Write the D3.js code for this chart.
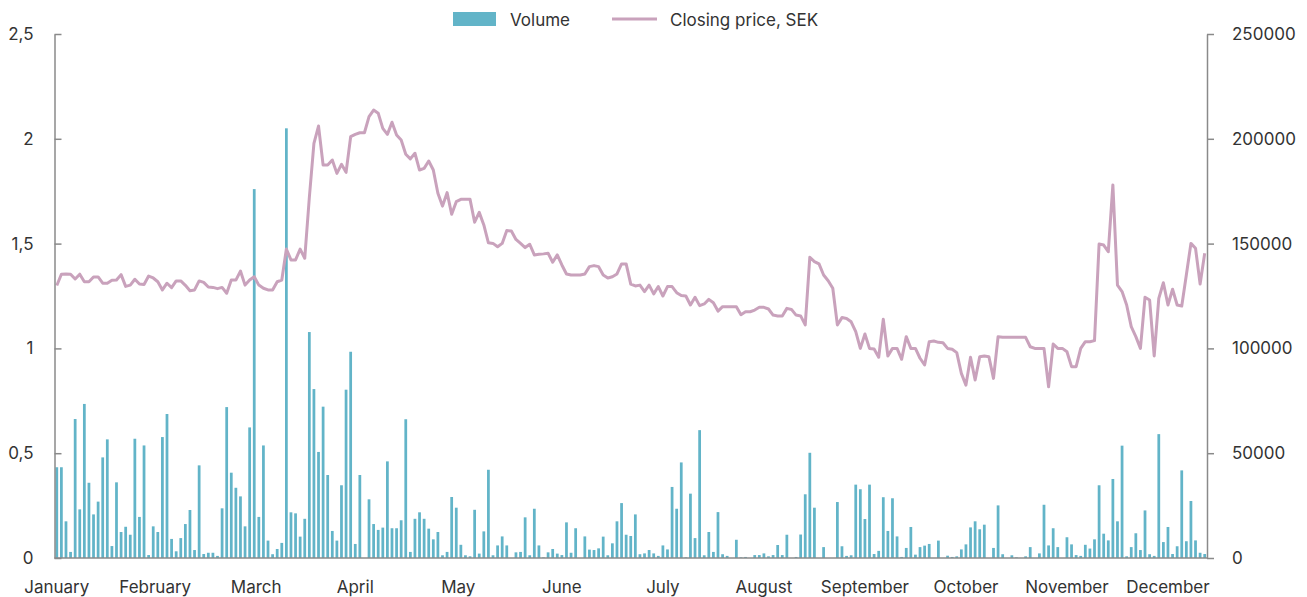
<!DOCTYPE html>
<html>
<head>
<meta charset="utf-8">
<script src="https://cdn.jsdelivr.net/npm/d3@7"></script>
<style>
  body { margin: 0; background: #fff; }
  svg text { font-family: Inter, "Noto Sans", sans-serif; fill: #333; }
</style>
</head>
<body>
<svg id="chart" width="1307" height="597"></svg>
<script>
// daily trading volume (right axis)
const volume = [
  43300, 43300, 17500, 2900, 66300, 23200, 73500, 35900, 20800, 26900,
  48000, 56600, 5700, 36100, 12400, 14900, 11100, 56900, 19600, 53700,
  1400, 15100, 12400, 57700, 68700, 9100, 3200, 9500, 16200, 22900,
  3800, 44200, 1900, 2500, 2500, 1000, 23700, 72000, 40700, 33500,
  29400, 15100, 62300, 176000, 19600, 53700, 8300, 1800, 4300, 7200,
  205000, 21800, 21300, 10200, 18700, 107800, 80600, 50600, 72200, 39600,
  12900, 8300, 34700, 80300, 98400, 6700, 39600, 0, 28000, 16200,
  13400, 14500, 46100, 14200, 14200, 18000, 66200, 2900, 18700, 21800,
  18700, 14000, 8900, 12400, 1300, 2900, 29100, 24000, 6300, 1300,
  800, 23000, 2100, 12700, 42100, 1300, 6000, 10300, 6000, 0,
  2700, 2900, 19400, 1300, 23500, 6000, 300, 2700, 4300, 2100,
  1400, 17000, 2500, 14200, 0, 10300, 4000, 3800, 4600, 10200,
  1300, 7000, 17500, 26200, 11100, 10500, 20800, 1800, 2200, 3800,
  2200, 1000, 6000, 4100, 33900, 23500, 45600, 300, 30700, 9500,
  61000, 1300, 12400, 2900, 21900, 1800, 1000, 0, 8700, 300,
  500, 0, 1400, 1400, 2200, 800, 1400, 6200, 1400, 11100,
  0, 500, 11200, 30400, 50200, 24000, 0, 5200, 0, 0,
  26700, 5600, 1000, 1300, 35000, 32800, 18600, 35000, 1900, 3400,
  29000, 12900, 28500, 10300, 500, 4800, 14800, 1600, 5200, 5900,
  6700, 0, 8300, 0, 1100, 500, 800, 4100, 6500, 14600,
  17500, 13700, 15900, 0, 4800, 25100, 1800, 0, 1300, 300,
  0, 800, 5200, 0, 2200, 25400, 6000, 14200, 5200, 0,
  9900, 6500, 1400, 1000, 6300, 4500, 8900, 34700, 11600, 8400,
  37700, 17500, 53600, 800, 5200, 11800, 3800, 22700, 1800, 1000,
  59100, 7600, 14800, 1900, 5600, 41800, 8000, 27200, 8400, 2500,
  1900
];

// closing price, SEK (left axis)
const price = [
  1.30, 1.354, 1.355, 1.354, 1.331, 1.354, 1.318, 1.318, 1.341, 1.341,
  1.311, 1.311, 1.325, 1.326, 1.352, 1.296, 1.302, 1.33, 1.307, 1.305,
  1.345, 1.336, 1.318, 1.279, 1.311, 1.29, 1.322, 1.322, 1.301, 1.275,
  1.279, 1.322, 1.315, 1.293, 1.291, 1.285, 1.291, 1.263, 1.326, 1.326,
  1.369, 1.302, 1.326, 1.342, 1.302, 1.287, 1.279, 1.279, 1.318, 1.326,
  1.474, 1.422, 1.422, 1.474, 1.43, 1.72, 1.978, 2.061, 1.875, 1.875,
  1.899, 1.835, 1.878, 1.84, 2.01, 2.021, 2.029, 2.029, 2.106, 2.137,
  2.122, 2.05, 2.021, 2.079, 2.018, 1.994, 1.926, 1.904, 1.931, 1.851,
  1.859, 1.894, 1.851, 1.74, 1.679, 1.743, 1.64, 1.70, 1.711, 1.711,
  1.711, 1.602, 1.649, 1.589, 1.504, 1.501, 1.485, 1.501, 1.562, 1.56,
  1.52, 1.501, 1.481, 1.497, 1.446, 1.449, 1.451, 1.454, 1.411, 1.446,
  1.398, 1.355, 1.35, 1.35, 1.35, 1.355, 1.39, 1.395, 1.39, 1.35,
  1.336, 1.342, 1.355, 1.403, 1.403, 1.307, 1.298, 1.302, 1.271, 1.302,
  1.26, 1.295, 1.25, 1.295, 1.295, 1.266, 1.252, 1.25, 1.207, 1.244,
  1.204, 1.212, 1.234, 1.218, 1.178, 1.199, 1.199, 1.199, 1.199, 1.161,
  1.175, 1.175, 1.183, 1.196, 1.196, 1.188, 1.159, 1.155, 1.155, 1.191,
  1.186, 1.159, 1.155, 1.112, 1.435, 1.414, 1.403, 1.35, 1.323, 1.287,
  1.112, 1.147, 1.143, 1.127, 1.08, 1.00, 1.069, 1.00, 0.997, 0.958,
  1.139, 0.964, 1.00, 1.00, 0.948, 1.056, 1.00, 1.00, 0.953, 0.921,
  1.032, 1.035, 1.029, 1.027, 1.00, 0.996, 0.98, 0.881, 0.825, 0.958,
  0.849, 0.96, 0.964, 0.96, 0.857, 1.056, 1.053, 1.053, 1.053, 1.053,
  1.053, 1.053, 1.008, 1.00, 1.00, 1.00, 0.817, 1.021, 1.00, 1.00,
  0.984, 0.913, 0.913, 1.00, 1.032, 1.032, 1.037, 1.498, 1.493, 1.461,
  1.78, 1.302, 1.271, 1.207, 1.104, 1.056, 1.00, 1.244, 1.231, 0.964,
  1.239, 1.313, 1.207, 1.282, 1.207, 1.202, 1.35, 1.501, 1.478, 1.307,
  1.454
];

const monthLabels = ['January', 'February', 'March', 'April', 'May', 'June',
  'July', 'August', 'September', 'October', 'November', 'December'];
const monthIndex = [0, 21, 43, 65, 87, 110, 132, 154, 176, 198, 220, 242];
const priceTicks = [0, 0.5, 1, 1.5, 2, 2.5];
const volumeTicks = [0, 50000, 100000, 150000, 200000, 250000];

const svg = d3.select('#chart');
const plotLeft = 54.5, plotRight = 1207, plotTop = 34, plotBottom = 558;
const barColor = '#62b4c8', lineColor = '#c9a2bc', axisColor = '#8a8a8a';

const x = d3.scaleBand()
  .domain(d3.range(volume.length))
  .range([plotLeft, plotRight])
  .paddingInner(0.4)
  .paddingOuter(0.2);
const yPrice = d3.scaleLinear().domain([0, 2.5]).range([plotBottom, plotTop]);
const yVol = d3.scaleLinear().domain([0, 250000]).range([plotBottom, plotTop]);

svg.append('g')
  .selectAll('rect')
  .data(volume)
  .join('rect')
  .attr('x', (d, i) => x(i))
  .attr('width', x.bandwidth())
  .attr('y', d => yVol(d))
  .attr('height', d => plotBottom - yVol(d))
  .attr('fill', barColor);

const line = d3.line()
  .x((d, i) => x(i) + x.bandwidth() / 2)
  .y(d => yPrice(d));

svg.append('path')
  .datum(price)
  .attr('d', line)
  .attr('fill', 'none')
  .attr('stroke', lineColor)
  .attr('stroke-width', 3)
  .attr('stroke-linejoin', 'round');

// axes
const comma = d => String(d).replace('.', ',');
const leftAxis = svg.append('g')
  .attr('transform', `translate(${plotLeft},0)`)
  .call(d3.axisLeft(yPrice).tickValues(priceTicks).tickFormat(comma)
    .tickSize(-7).tickSizeOuter(0).tickPadding(21));
const rightAxis = svg.append('g')
  .attr('transform', `translate(${plotRight},0)`)
  .call(d3.axisRight(yVol).tickValues(volumeTicks).tickFormat(d3.format('d'))
    .tickSize(7).tickSizeOuter(0).tickPadding(18));
[leftAxis, rightAxis].forEach(g => {
  g.select('.domain').attr('stroke', axisColor).attr('stroke-width', 1.5);
  g.selectAll('.tick line').attr('stroke', axisColor).attr('stroke-width', 1.5);
  g.selectAll('.tick text').attr('font-size', 17).attr('fill', '#333')
    .attr('font-family', 'Inter, sans-serif');
});

svg.append('line')
  .attr('x1', plotLeft).attr('x2', plotRight)
  .attr('y1', plotBottom).attr('y2', plotBottom)
  .attr('stroke', axisColor).attr('stroke-width', 1.5);

svg.append('g')
  .selectAll('text')
  .data(monthLabels)
  .join('text')
  .attr('x', (d, i) => x(monthIndex[i]) + x.bandwidth() / 2 + (i === 1 || i === 2 || i === 4 ? 2 : 0))
  .attr('y', 593)
  .attr('text-anchor', 'middle')
  .attr('font-size', 17)
  .text(d => d);

// legend
const legend = svg.append('g');
legend.append('rect')
  .attr('x', 453).attr('y', 12).attr('width', 43).attr('height', 14)
  .attr('fill', barColor);
legend.append('text')
  .attr('x', 510).attr('y', 25.5).attr('font-size', 17).text('Volume');
legend.append('line')
  .attr('x1', 612).attr('x2', 657).attr('y1', 19).attr('y2', 19)
  .attr('stroke', lineColor).attr('stroke-width', 3);
legend.append('text')
  .attr('x', 670).attr('y', 25.5).attr('font-size', 17).text('Closing price, SEK');
</script>
</body>
</html>
